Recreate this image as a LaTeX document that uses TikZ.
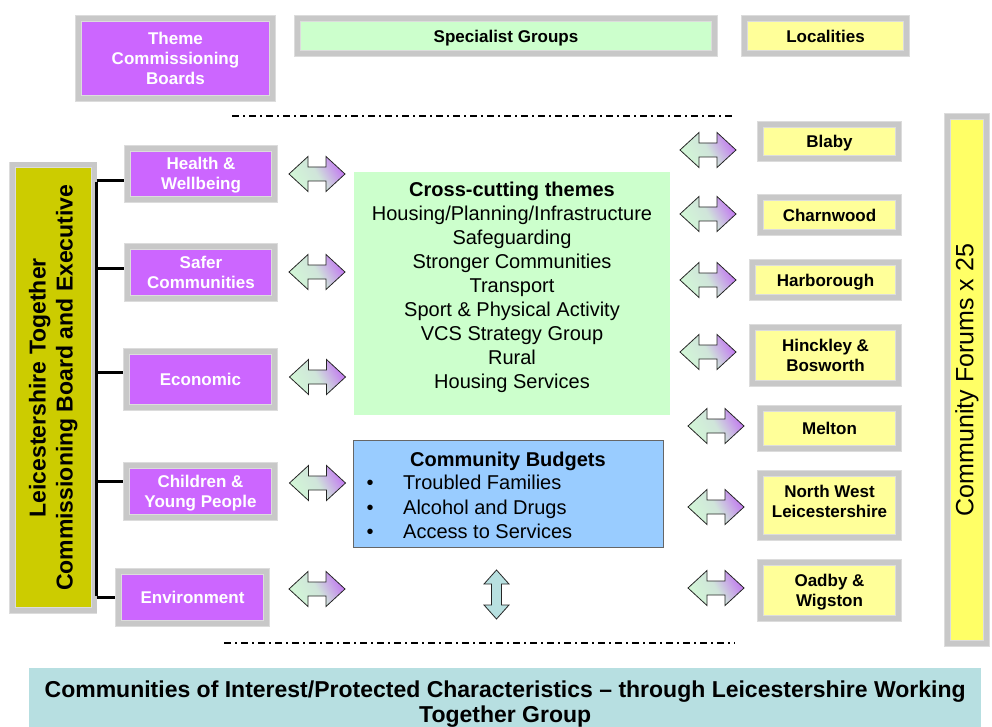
\documentclass[tikz,border=0pt]{standalone}
\usepackage{fontspec}
\setmainfont{Liberation Sans}
\definecolor{cpurple}{HTML}{CC66FF}
\definecolor{cgreen}{HTML}{CCFFCC}
\definecolor{cyellow}{HTML}{FFFF99}
\definecolor{cyellowb}{HTML}{FFFF66}
\definecolor{colive}{HTML}{CCCC00}
\definecolor{cblue}{HTML}{99CCFF}
\definecolor{cbanner}{HTML}{B7DFE1}
\definecolor{bandgray}{HTML}{C8C8C8}
\definecolor{bandline}{HTML}{DCDCDC}
\definecolor{agreen}{HTML}{D2F7D6}
\definecolor{apurple}{HTML}{C27AF0}
\definecolor{ateal}{HTML}{B8E0E0}
\tikzset{
  band/.style={draw=bandline, double=bandgray, double distance=5pt, line width=0.8pt, inner sep=1pt, align=center},
  pbox/.style={band, fill=cpurple, text=white, font=\fontsize{17}{20}\selectfont\bfseries},
  ybox/.style={band, fill=cyellow, text=black, font=\fontsize{17}{20}\selectfont\bfseries},
  gbox/.style={band, fill=cgreen, text=black, font=\fontsize{17}{20}\selectfont\bfseries},
  oneline/.style={text height=12.2pt, text depth=0pt},
  spine/.style={line width=3pt, black},
  dashdot/.style={line width=2pt, dash pattern=on 7pt off 4pt on 2pt off 4pt},
  harrow/.style={draw=black!85, line width=0.8pt, left color=agreen, right color=apurple, middle color=agreen!85!apurple, shading angle=120},
  varrow/.style={draw=black!85, line width=0.8pt, fill=ateal},
  body/.style={font=\fontsize{20}{24}\selectfont, align=center, inner sep=0pt}
}
\newcommand\hdarrow[2]{\draw[harrow, shift={(#1,#2)}] (-28,0) -- (-9,-17.5) -- (-9,-7) -- (9,-7) -- (9,-17.5) -- (28,0) -- (9,17.5) -- (9,7) -- (-9,7) -- (-9,17.5) -- cycle;}
\begin{document}
\begin{tikzpicture}[x=1pt, y=-1pt]
\useasboundingbox (0,0) rectangle (992,727);

% top row
\node[pbox, minimum width=194, minimum height=80] (theme) at (175.5,58.5) {Theme\\Commissioning\\Boards};
\node[gbox, oneline, minimum width=417, minimum height=35] (spec) at (506,36) {Specialist Groups};
\node[ybox, oneline, minimum width=162, minimum height=35] (loc) at (825.5,36) {Localities};

% dash-dot lines
\coordinate (dt1) at (232,116); \coordinate (dt2) at (735,116);
\coordinate (db1) at (224,643); \coordinate (db2) at (735,643);
\draw[dashdot] (dt1) -- (dt2);
\draw[dashdot] (db1) -- (db2);

% left board
\node[band, fill=colive, rotate=90, minimum width=445.5, minimum height=81.5, font=\fontsize{23}{27}\selectfont\bfseries] (lt) at (53.25,387.75) {Leicestershire Together\\Commissioning Board and Executive};

% theme boards
\node[pbox, minimum width=147, minimum height=51] (hw) at (201,174) {\rule{0pt}{15pt}Health \&\\Wellbeing};
\node[pbox, minimum width=147, minimum height=52] (sc) at (201,272.5) {Safer\\Communities};
\node[pbox, oneline, minimum width=148, minimum height=56] (ec) at (200.5,379.5) {Economic};
\node[pbox, minimum width=148, minimum height=52] (cy) at (200.5,491.5) {\rule{0pt}{16pt}Children \&\\Young People};
\node[pbox, oneline, minimum width=148, minimum height=52] (en) at (192.5,597.5) {Environment};

% spine connectors
\coordinate (sp1) at (96.5,181);
\coordinate (sp2) at (96.5,268);
\coordinate (sp3) at (96.5,372);
\coordinate (sp4) at (96.5,481);
\coordinate (sp5) at (96.5,597);
\draw[spine] ([yshift=-1.5pt]sp1) -- ([yshift=1.5pt]sp5);
\draw[spine, shorten >=3pt] (sp1) -- (sp1 -| hw.west);
\draw[spine, shorten >=3pt] (sp2) -- (sp2 -| sc.west);
\draw[spine, shorten >=3pt] (sp3) -- (sp3 -| ec.west);
\draw[spine, shorten >=3pt] (sp4) -- (sp4 -| cy.west);
\draw[spine, shorten >=3pt] (sp5) -- (sp5 -| en.west);

% left arrows
\hdarrow{317}{174}
\hdarrow{317}{272}
\hdarrow{317.5}{377}
\hdarrow{317.5}{483}
\hdarrow{317}{589}

% cross-cutting themes
\node[fill=cgreen, minimum width=316, minimum height=243, inner sep=0pt] (cc) at (512,293.5) {};
\node[body] (cctext) at (512,287) {\textbf{Cross-cutting themes}\\Housing/Planning/Infrastructure\\Safeguarding\\Stronger Communities\\Transport\\Sport \& Physical Activity\\VCS Strategy Group\\Rural\\Housing Services};

% community budgets
\node[fill=cblue, draw=black!60, line width=0.8pt, minimum width=310, minimum height=107, inner sep=0pt] (cb) at (508,493.5) {};
\node[body, anchor=base] (cbt) at (508,466.5) {\textbf{Community Budgets}};
\node[body, anchor=base] (b1) at (370,489.5) {•};
\node[body, anchor=base] (b2) at (370,514) {•};
\node[body, anchor=base] (b3) at (370,538) {•};
\node[body, anchor=base west] (t1) at (403,489.5) {Troubled Families};
\node[body, anchor=base west] (t2) at (403,514) {Alcohol and Drugs};
\node[body, anchor=base west] (t3) at (403,538) {Access to Services};

% vertical arrow
\draw[varrow, shift={(496.5,594.5)}] (0,-24.5) -- (12.5,-10.5) -- (5,-10.5) -- (5,10.5) -- (12.5,10.5) -- (0,24.5) -- (-12.5,10.5) -- (-5,10.5) -- (-5,-10.5) -- (-12.5,-10.5) -- cycle;

% localities
\node[ybox, oneline, minimum width=138, minimum height=34] (bl) at (829.5,141.5) {Blaby};
\node[ybox, oneline, minimum width=138, minimum height=35] (ch) at (829.5,215) {Charnwood};
\node[ybox, oneline, minimum width=146, minimum height=35] (ha) at (825.5,280) {Harborough};
\node[ybox, minimum width=146, minimum height=56] (hb) at (825.5,355.5) {Hinckley \&\\Bosworth};
\node[ybox, oneline, minimum width=138, minimum height=40] (me) at (829.5,428.5) {Melton};
\node[ybox, minimum width=138, minimum height=64] (nw) at (829.5,505.5) {North West\\Leicestershire\rule[-9pt]{0pt}{9pt}};
\node[ybox, minimum width=138, minimum height=56] (ow) at (829.5,590.5) {\rule{0pt}{16pt}Oadby \&\\Wigston};

% right arrows
\hdarrow{708}{150}
\hdarrow{708}{214}
\hdarrow{708}{280}
\hdarrow{708}{352}
\hdarrow{716}{426}
\hdarrow{716}{507}
\hdarrow{716}{588}

% community forums
\node[band, fill=cyellowb, rotate=90, minimum width=527, minimum height=39, font=\fontsize{25}{30}\selectfont] (cf) at (967,380) {Community Forums x 25};

% bottom banner
\node[fill=cbanner, minimum width=952, minimum height=71, inner sep=0pt, anchor=north west, align=center, font=\fontsize{23}{25}\selectfont\bfseries] (ban) at (29,668) {Communities of Interest/Protected Characteristics – through Leicestershire Working\\Together Group};
\end{tikzpicture}
\end{document}
